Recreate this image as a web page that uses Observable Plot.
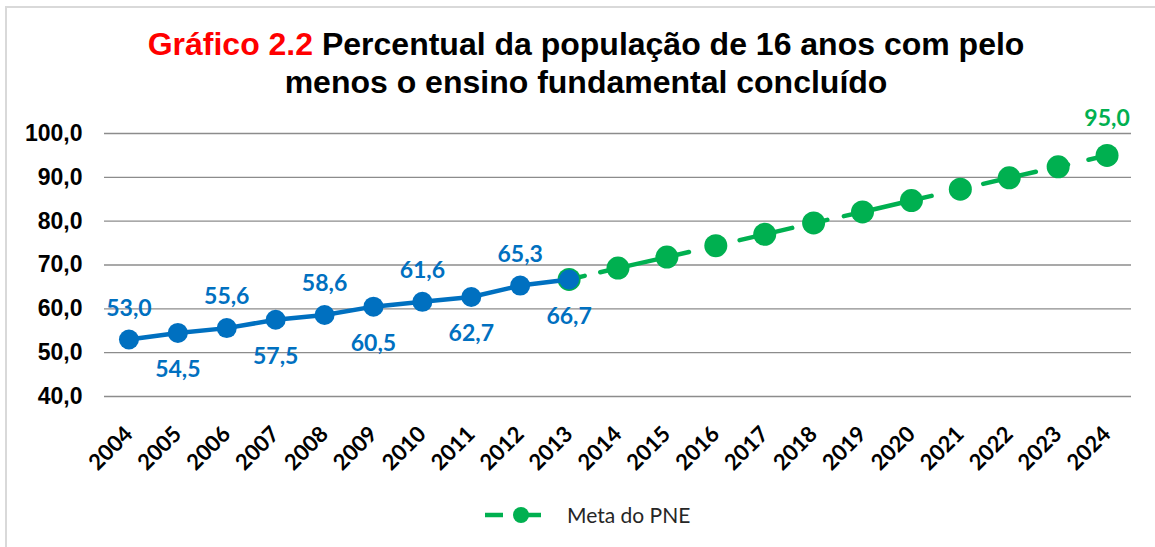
<!DOCTYPE html>
<html>
<head>
<meta charset="utf-8">
<script src="https://cdn.jsdelivr.net/npm/d3@7"></script>
<script src="https://cdn.jsdelivr.net/npm/@observablehq/plot@0.6"></script>
<style>
  html, body { margin: 0; padding: 0; background: #fff; overflow: hidden; }
  #wrap { position: relative; width: 1155px; height: 547px; }
  #frame { position: absolute; left: 5px; top: 6px; width: 1170px; height: 560px; border: 2px solid #d9d9d9; box-sizing: border-box; }
  #title { position: absolute; left: 0; top: 25px; width: 1172px; text-align: center;
           font-family: "Liberation Sans", Arial, sans-serif; font-weight: bold; font-size: 32px; line-height: 38px; color: #000; }
  #title .red { color: #ff0000; }
  #chart { position: absolute; left: 0; top: 0; }
  #legend { position: absolute; left: 485px; top: 502px; display: flex; align-items: center;
            font-family: "Lato", "Open Sans", sans-serif; font-size: 21px; color: #262626; }
  #legend svg { margin-right: 24px; }
</style>
</head>
<body>
<div id="wrap">
  <div id="frame"></div>
  <div id="chart"></div>
  <div id="title"><span class="red">Gráfico 2.2</span> Percentual da população de 16 anos com pelo<br>menos o ensino fundamental concluído</div>
  <div id="legend"></div>
</div>
<script>
// ---- data ----
const years = [2004, 2005, 2006, 2007, 2008, 2009, 2010, 2011, 2012, 2013, 2014,
               2015, 2016, 2017, 2018, 2019, 2020, 2021, 2022, 2023, 2024];
const realYears = [2004, 2005, 2006, 2007, 2008, 2009, 2010, 2011, 2012, 2013];
const realValues = [53.0, 54.5, 55.6, 57.5, 58.6, 60.5, 61.6, 62.7, 65.3, 66.7];
const goalYears = [2013, 2014, 2015, 2016, 2017, 2018, 2019, 2020, 2021, 2022, 2023, 2024];
const goalValues = [66.7, 69.3, 71.8, 74.4, 77.0, 79.6, 82.1, 84.7, 87.3, 89.9, 92.4, 95.0];
const yTicks = [40, 50, 60, 70, 80, 90, 100];
const legendLabel = "Meta do PNE";

// ---- build ----
const real = realYears.map((year, i) => ({year, value: realValues[i]}));
const goal = goalYears.map((year, i) => ({year, value: goalValues[i]}));
const fmt = v => v.toFixed(1).replace(".", ",");
const blue = "#0070c0", green = "#00b050";
const labelFont = {fontSize: 23, fontWeight: "bold", fontFamily: "Lato, sans-serif"};

const chart = Plot.plot({
  width: 1155,
  height: 480,
  marginTop: 133,
  marginBottom: 84,
  marginLeft: 104,
  marginRight: 24,
  style: {background: "transparent", overflow: "visible"},
  x: {type: "point", domain: years, padding: 0.5, round: false, label: null},
  y: {domain: [40, 100], label: null},
  marks: [
    Plot.gridY(yTicks, {stroke: "#8c8c8c", strokeOpacity: 1, strokeWidth: 1.4}),
    Plot.axisY(yTicks, {tickSize: 0, tickPadding: 22, tickFormat: fmt, fontSize: 23,
      fontWeight: "bold", fontFamily: "Liberation Sans, Arial, sans-serif", fill: "#000"}),
    Plot.axisX({tickSize: 0, tickRotate: -45, tickPadding: 34, tickFormat: d => String(d),
      fontSize: 22, fontWeight: "bold", fontFamily: "Lato, sans-serif", fill: "#000"}),
    Plot.line(goal, {x: "year", y: "value", stroke: green, strokeWidth: 4.5,
      strokeDasharray: "16,16,91,52,54,15,21,17,90,53,54,21,12,21,30"}),
    Plot.dot(goal, {x: "year", y: "value", r: 11.5, fill: green, stroke: null}),
    Plot.line(real, {x: "year", y: "value", stroke: blue, strokeWidth: 4.5}),
    Plot.dot(real, {x: "year", y: "value", r: 10, fill: blue, stroke: null}),
    Plot.text(real, {filter: (d, i) => i % 2 === 0, x: "year", y: "value", dy: -31,
      text: d => fmt(d.value), fill: blue, ...labelFont}),
    Plot.text(real, {filter: (d, i) => i % 2 === 1, x: "year", y: "value", dy: 37,
      text: d => fmt(d.value), fill: blue, ...labelFont}),
    Plot.text(goal, {filter: d => d.year === goalYears[goalYears.length - 1], x: "year", y: "value", dy: -37,
      text: d => fmt(d.value), fill: green, ...labelFont})
  ]
});
document.getElementById("chart").appendChild(chart);

// legend
const lg = document.getElementById("legend");
lg.innerHTML = `<svg width="58" height="24" viewBox="0 0 58 24">
  <line x1="0" y1="12" x2="18" y2="12" stroke="${green}" stroke-width="4.5"/>
  <line x1="30" y1="12" x2="56" y2="12" stroke="${green}" stroke-width="4.5"/>
  <circle cx="36" cy="12" r="8" fill="${green}"/>
</svg><span>${legendLabel}</span>`;
</script>
</body>
</html>
